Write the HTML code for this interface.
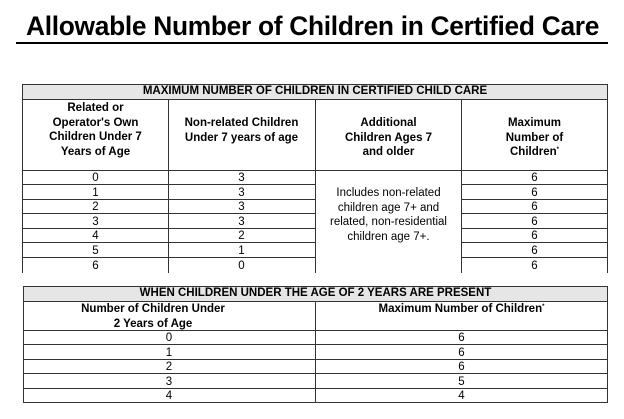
<!DOCTYPE html>
<html><head><style>
*{margin:0;padding:0;box-sizing:border-box}
body{width:624px;height:419px;background:#fff;position:relative;overflow:hidden;font-family:"Liberation Sans",Arial,sans-serif;color:#000}
.a{position:absolute}
.t{position:absolute;text-align:center;font-size:11.5px;line-height:13px}
.b{font-weight:bold}
.h{position:absolute;background:#333;height:1px}
.v{position:absolute;background:#333;width:1px}
.s{font-size:6px;position:relative;top:-4px;line-height:0}
</style></head><body>
<div class="a b" style="left:26px;top:9px;font-size:27px;line-height:34px;white-space:nowrap;letter-spacing:-0.3px;transform:scaleX(0.975);transform-origin:0 0;">Allowable Number of Children in Certified Care</div>
<div class="a" style="left:16px;top:42px;width:592px;height:2px;background:#000"></div>

<!-- table 1 -->
<div class="a" style="left:22px;top:84px;width:586px;height:15px;background:#e6e6e6"></div>
<div class="h" style="left:22px;top:84px;width:586px"></div>
<div class="h" style="left:22px;top:99px;width:586px"></div>
<div class="h" style="left:22px;top:170px;width:586px"></div>
<div class="v" style="left:22px;top:84px;height:189px"></div>
<div class="v" style="left:607px;top:84px;height:189px"></div>
<div class="v" style="left:168px;top:99px;height:174px"></div>
<div class="v" style="left:315px;top:99px;height:174px"></div>
<div class="v" style="left:461px;top:99px;height:174px"></div>
<div class="h" style="left:22px;top:184px;width:293px"></div><div class="h" style="left:461px;top:184px;width:147px"></div>
<div class="h" style="left:22px;top:199px;width:293px"></div><div class="h" style="left:461px;top:199px;width:147px"></div>
<div class="h" style="left:22px;top:213px;width:293px"></div><div class="h" style="left:461px;top:213px;width:147px"></div>
<div class="h" style="left:22px;top:228px;width:293px"></div><div class="h" style="left:461px;top:228px;width:147px"></div>
<div class="h" style="left:22px;top:242px;width:293px"></div><div class="h" style="left:461px;top:242px;width:147px"></div>
<div class="h" style="left:22px;top:257px;width:293px"></div><div class="h" style="left:461px;top:257px;width:147px"></div>
<div class="t b" style="left:22px;top:85px;width:586px;font-size:11.5px">MAXIMUM NUMBER OF CHILDREN IN CERTIFIED CHILD CARE</div>
<div class="t b" style="left:22px;top:101px;width:147px;line-height:14.5px">Related or<br>Operator's Own<br>Children Under 7<br>Years of Age</div>
<div class="t b" style="left:168px;top:116px;width:147px;line-height:14.5px">Non-related Children<br>Under 7 years of age</div>
<div class="t b" style="left:315px;top:116px;width:147px;line-height:14.5px">Additional<br>Children Ages 7<br>and older</div>
<div class="t b" style="left:461px;top:116px;width:147px;line-height:14.5px">Maximum<br>Number of<br>Children<span class="s">*</span></div>
<div class="t" style="left:22px;top:171px;width:147px;line-height:14.6px">0<br>1<br>2<br>3<br>4<br>5<br>6</div>
<div class="t" style="left:168px;top:171px;width:147px;line-height:14.6px">3<br>3<br>3<br>3<br>2<br>1<br>0</div>
<div class="t" style="left:461px;top:171px;width:147px;line-height:14.6px">6<br>6<br>6<br>6<br>6<br>6<br>6</div>
<div class="t" style="left:315px;top:186px;width:147px;line-height:14.6px">Includes non-related<br>children age 7+ and<br>related, non-residential<br>children age 7+.</div>

<!-- table 2 -->
<div class="a" style="left:23px;top:286px;width:585px;height:15px;background:#e6e6e6"></div>
<div class="h" style="left:23px;top:286px;width:585px"></div>
<div class="h" style="left:23px;top:301px;width:585px"></div>
<div class="h" style="left:23px;top:330px;width:585px"></div>
<div class="h" style="left:23px;top:344px;width:585px"></div>
<div class="h" style="left:23px;top:359px;width:585px"></div>
<div class="h" style="left:23px;top:373px;width:585px"></div>
<div class="h" style="left:23px;top:388px;width:585px"></div>
<div class="h" style="left:23px;top:402px;width:585px"></div>
<div class="v" style="left:23px;top:286px;height:117px"></div>
<div class="v" style="left:315px;top:301px;height:102px"></div>
<div class="v" style="left:607px;top:286px;height:117px"></div>
<div class="t b" style="left:23px;top:287px;width:585px">WHEN CHILDREN UNDER THE AGE OF 2 YEARS ARE PRESENT</div>
<div class="t b" style="left:23px;top:302px;width:260px;line-height:14.5px">Number of Children Under<br>2 Years of Age</div>
<div class="t b" style="left:315px;top:302px;width:293px;line-height:14.5px">Maximum Number of Children<span class="s">*</span></div>
<div class="t" style="left:23px;top:331px;width:292px;line-height:14.5px">0<br>1<br>2<br>3<br>4</div>
<div class="t" style="left:315px;top:331px;width:293px;line-height:14.5px">6<br>6<br>6<br>5<br>4</div>
</body></html>
